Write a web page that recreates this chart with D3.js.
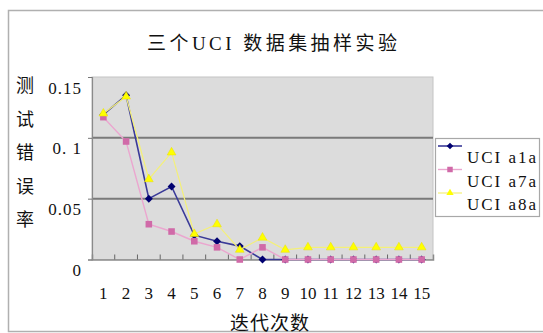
<!DOCTYPE html>
<html><head><meta charset="utf-8">
<script src="https://cdn.jsdelivr.net/npm/d3@7"></script>
<style>
html,body{margin:0;padding:0;background:#fff;}
svg{display:block;}
text{font-family:"Liberation Serif","DejaVu Serif","Noto Sans CJK SC",serif;fill:#111;}
</style></head>
<body>
<script>
const categories = ["1","2","3","4","5","6","7","8","9","10","11","12","13","14","15"];
const a1a = [0.119,0.135,0.050,0.060,0.020,0.015,0.011,0,0,0,0,0,0,0,0];
const a7a = [0.117,0.097,0.029,0.023,0.015,0.010,0,0.010,0,0,0,0,0,0,0];
const a8a = [0.120,0.134,0.066,0.088,0.021,0.029,0.008,0.018,0.008,0.010,0.010,0.010,0.010,0.010,0.010];
const yTicks = [0,0.05,0.1,0.15];
const yTickLabels = ["0","0.05","0. 1","0.15"];
const seriesNames = ["UCI  a1a","UCI  a7a","UCI  a8a"];
const title = "三个UCI 数据集抽样实验";
const yTitle = ["测","试","错","误","率"];
const xTitle = "迭代次数";

const W=543,H=333;
const svg=d3.select("body").append("svg").attr("width",W).attr("height",H);

// outer border
svg.append("rect").attr("x",8.5).attr("y",10.5).attr("width",W).attr("height",321)
  .attr("fill","#fff").attr("stroke","#b0b0b0").attr("stroke-width",1.5);

const x=d3.scaleBand().domain(categories).range([92,433]).padding(0);
const y=d3.scaleLinear().domain([0,0.15]).range([259.5,77]);

// plot background
svg.append("rect").attr("x",92).attr("y",77).attr("width",341).attr("height",182.5)
  .attr("fill","#dcdcdc").attr("stroke","#c4c4c4").attr("stroke-width",1);

// gridlines
svg.append("g").selectAll("line").data([0.05,0.1]).join("line")
  .attr("x1",92).attr("x2",433).attr("y1",d=>y(d)).attr("y2",d=>y(d))
  .attr("stroke","#7a7a7a").attr("stroke-width",2);

// axes
const xAxis=d3.axisBottom(x).tickSize(-5).tickFormat("");
const gx=svg.append("g").attr("transform","translate(0,259.5)").call(xAxis);
gx.select(".domain").attr("stroke","#8a8a8a").attr("stroke-width",1.5);
gx.selectAll(".tick").remove();
gx.append("g").selectAll("line").data(categories.slice(1)).join("line")
  .attr("x1",d=>x(d)).attr("x2",d=>x(d)).attr("y1",0).attr("y2",-5)
  .attr("stroke","#666").attr("stroke-width",1);
gx.append("g").selectAll("text").data(categories).join("text")
  .attr("x",d=>x(d)+x.bandwidth()/2).attr("y",39)
  .attr("text-anchor","middle").attr("font-size",17).text(d=>d);

const yAxis=d3.axisLeft(y).tickValues(yTicks).tickSize(4).tickFormat("");
const gy=svg.append("g").attr("transform","translate(92,0)").call(yAxis);
gy.select(".domain").attr("stroke","#8a8a8a").attr("stroke-width",1.2);
gy.selectAll(".tick line").attr("stroke","#777");
gy.selectAll(".tick").append("text").attr("x",-10).attr("y",16)
  .attr("text-anchor","end").attr("font-size",17).attr("letter-spacing","1px")
  .text(d=>yTickLabels[yTicks.indexOf(d)]);

// title
svg.append("text").attr("x",272).attr("y",50).attr("text-anchor","middle")
  .attr("font-size",19).attr("textLength",250).attr("lengthAdjust","spacing").text(title);
// y title
svg.append("g").selectAll("text").data(yTitle).join("text")
  .attr("x",25).attr("y",(d,i)=>92+i*33.5).attr("text-anchor","middle")
  .attr("font-size",18).text(d=>d);
// x title
svg.append("text").attr("x",270).attr("y",330).attr("text-anchor","middle")
  .attr("font-size",19).attr("letter-spacing","1px").text(xTitle);

const cx=d=>x(d)+x.bandwidth()/2;
const line=d3.line().x((d,i)=>cx(categories[i])).y(d=>y(d));
const series=[
  {data:a1a,line:"#3a3a98",fill:"#000070",sym:d3.symbolDiamond2,size:40,w:1.6},
  {data:a7a,line:"#eba6cf",fill:"#d06aa8",sym:d3.symbolSquare2,size:55,w:1.4},
  {data:a8a,line:"#f4f078",fill:"#ffff00",sym:d3.symbolTriangle2,size:55,w:1.2}
];
series.forEach(s=>{
  const g=svg.append("g");
  g.append("path").datum(s.data).attr("d",line).attr("fill","none")
    .attr("stroke",s.line).attr("stroke-width",s.w);
  g.append("g").selectAll("path").data(s.data).join("path")
    .attr("transform",(d,i)=>`translate(${cx(categories[i])},${y(d)})`)
    .attr("d",d3.symbol().type(s.sym).size(s.size)).attr("fill",s.fill)
    .attr("stroke",s.fill==="#ffff00"?"#e8e000":"none").attr("stroke-width",0.5);
});

// legend
svg.append("rect").attr("x",435.5).attr("y",138.5).attr("width",104).attr("height",78)
  .attr("fill","#fff").attr("stroke","#a8a8a8").attr("stroke-width",1.2);
series.forEach((s,i)=>{
  const ly=146+i*23.5;
  const g=svg.append("g");
  g.append("line").attr("x1",438).attr("x2",462).attr("y1",ly).attr("y2",ly)
    .attr("stroke",s.line).attr("stroke-width",s.w);
  g.append("path").attr("transform",`translate(450,${ly})`)
    .attr("d",d3.symbol().type(s.sym).size(s.size*0.7)).attr("fill",s.fill);
  g.append("text").attr("x",467).attr("y",ly+17).attr("font-size",17)
    .attr("textLength",69).attr("lengthAdjust","spacing").text(seriesNames[i]);
});
</script>
</body></html>
